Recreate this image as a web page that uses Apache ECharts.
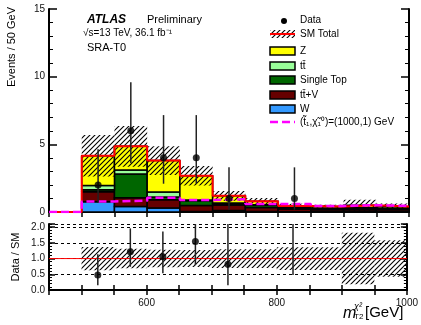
<!DOCTYPE html>
<html>
<head>
<meta charset="utf-8">
<script src="https://cdn.jsdelivr.net/npm/echarts@6.0.0/dist/echarts.min.js"></script>
<style>html,body{margin:0;padding:0;background:#fff}#chart{width:421px;height:325px}</style>
</head>
<body>
<div id="chart"></div>
<script>
// lower bin edges, bins are 50 GeV wide
const binLow = [450, 500, 550, 600, 650, 700, 750, 800, 850, 900, 950];
const binWidth = 50;
const xMax = 1000;

// SM backgrounds per bin
const wJets     = [0, 0.75, 0.40, 0.30, 0.03, 0.12, 0.04, 0.02, 0.02, 0.02, 0.02];
const ttV       = [0, 0.75, 0.65, 0.60, 0.45, 0.40, 0.30, 0.20, 0.15, 0.15, 0.15];
const singleTop = [0, 0.15, 1.75, 0.20, 0.35, 0.10, 0.15, 0.10, 0.08, 0.10, 0.08];
const ttbar     = [0, 0.30, 0.30, 0.37, 0.05, 0.05, 0.05, 0.03, 0.03, 0.05, 0.03];
const zJets     = [0, 2.20, 1.75, 2.33, 1.79, 0.53, 0.26, 0.10, 0.12, 0.18, 0.12];
// relative SM uncertainty (hatched band)
const smRelErr  = [0, 0.37, 0.31, 0.28, 0.27, 0.30, 0.30, 0.36, 0.36, 0.82, 0.58];
// signal (stop, neutralino) = (1000, 1) GeV
const signal    = [0, 0.78, 0.83, 1.05, 0.88, 0.95, 0.60, 0.60, 0.45, 0.50, 0.45];

// data points
const dataX     = [525, 575, 625, 675, 725, 825];
const dataY     = [2, 6, 4, 4, 1, 1];
const dataLow   = [0.71, 3.62, 2.09, 2.09, 0.17, 0.17];
const dataHigh  = [4.64, 9.58, 7.16, 7.16, 3.30, 3.30];
// ratio panel points
const ratioY    = [0.48, 1.22, 1.06, 1.54, 0.82, 2.30];
const ratioLow  = [0.15, 0.74, 0.53, 0.79, 0.15, 0.48];
const ratioHigh = [1.14, 1.96, 1.86, 2.60, 2.70, 7.20];

const xTickLabels = [600, 800, 1000];

const FONT = '"Liberation Sans", Arial, Helvetica, sans-serif';

function hatch(size, color) {
    const c = document.createElement('canvas');
    c.width = size; c.height = size;
    const ctx = c.getContext('2d');
    ctx.strokeStyle = color;
    ctx.lineWidth = 1.1;
    ctx.beginPath();
    ctx.moveTo(0, size); ctx.lineTo(size, 0);
    ctx.moveTo(-1, 1); ctx.lineTo(1, -1);
    ctx.moveTo(size - 1, size + 1); ctx.lineTo(size + 1, size - 1);
    ctx.stroke();
    return { image: c, repeat: 'repeat' };
}
const hatchFill = hatch(5, '#000');

// stacking order bottom -> top
const stack = [
    { values: wJets, color: '#3399ff' },
    { values: ttV, color: '#660000' },
    { values: singleTop, color: '#006600' },
    { values: ttbar, color: '#99ff99' },
    { values: zJets, color: '#ffff00' }
];
let base = binLow.map(() => 0);
stack.forEach(s => {
    s.rows = binLow.map((x, i) => [x, x + binWidth, base[i], base[i] + s.values[i]])
        .filter(r => r[3] > r[2]);
    base = base.map((b, i) => b + s.values[i]);
});
const total = base;

function boxRender(fill, stroke, lw) {
    return function (params, api) {
        const a = api.coord([api.value(0), api.value(3)]);
        const b = api.coord([api.value(1), api.value(2)]);
        return {
            type: 'rect',
            shape: { x: a[0], y: a[1], width: b[0] - a[0], height: b[1] - a[1] },
            style: stroke ? { fill: fill, stroke: stroke, lineWidth: lw } : { fill: fill }
        };
    };
}
function errRender(params, api) {
    const a = api.coord([api.value(0), api.value(1)]);
    const b = api.coord([api.value(0), api.value(2)]);
    return { type: 'line', shape: { x1: a[0], y1: a[1], x2: b[0], y2: b[1] }, style: { stroke: '#222', lineWidth: 1.5 } };
}
function stepData(vals) {
    const d = binLow.map((x, i) => [x, vals[i]]);
    d.push([xMax, vals[vals.length - 1]]);
    return d;
}

const series = [];
stack.forEach(s => series.push({
    type: 'custom', xAxisIndex: 0, yAxisIndex: 0, z: 2, clip: true,
    data: s.rows, encode: { x: [0, 1], y: [2, 3] },
    renderItem: boxRender(s.color, '#000', 1.5)
}));
series.push({
    type: 'custom', xAxisIndex: 0, yAxisIndex: 0, z: 3, clip: true,
    data: binLow.map((x, i) => [x, x + binWidth, total[i] * (1 - smRelErr[i]), total[i] * (1 + smRelErr[i])]).filter(r => r[3] > r[2]),
    encode: { x: [0, 1], y: [2, 3] },
    renderItem: boxRender(hatchFill)
});
series.push({
    type: 'line', xAxisIndex: 0, yAxisIndex: 0, z: 4, step: 'end', symbol: 'none',
    data: stepData(total), lineStyle: { color: '#ff0000', width: 2 }
});
series.push({
    type: 'line', xAxisIndex: 0, yAxisIndex: 0, z: 5, step: 'end', symbol: 'none',
    data: stepData(signal), lineStyle: { color: '#ff00ff', width: 2.5, type: [8, 4] }
});
series.push({
    type: 'custom', xAxisIndex: 0, yAxisIndex: 0, z: 6, clip: true,
    data: dataX.map((x, i) => [x, dataLow[i], dataHigh[i]]),
    encode: { x: 0, y: [1, 2] }, renderItem: errRender
});
series.push({
    type: 'scatter', xAxisIndex: 0, yAxisIndex: 0, z: 7, symbolSize: 7,
    itemStyle: { color: '#000' }, data: dataX.map((x, i) => [x, dataY[i]])
});
// ratio panel
series.push({
    type: 'custom', xAxisIndex: 2, yAxisIndex: 2, z: 3, clip: true,
    data: binLow.map((x, i) => [x, x + binWidth, 1 - smRelErr[i], 1 + smRelErr[i]]).filter(r => r[3] > r[2]),
    encode: { x: [0, 1], y: [2, 3] },
    renderItem: boxRender(hatchFill)
});
series.push({
    type: 'line', xAxisIndex: 2, yAxisIndex: 2, z: 4, symbol: 'none',
    data: [[binLow[0], 1], [xMax, 1]], lineStyle: { color: '#ff0000', width: 1 }
});
series.push({
    type: 'custom', xAxisIndex: 2, yAxisIndex: 2, z: 6, clip: true,
    data: dataX.map((x, i) => [x, ratioLow[i], ratioHigh[i]]),
    encode: { x: 0, y: [1, 2] }, renderItem: errRender
});
series.push({
    type: 'scatter', xAxisIndex: 2, yAxisIndex: 2, z: 7, symbolSize: 7, clip: true,
    itemStyle: { color: '#000' }, data: dataX.map((x, i) => [x, ratioY[i]])
});

const frame = { lineStyle: { color: '#000', width: 2 } };
function xAx(grid, pos, labels) {
    return {
        gridIndex: grid, type: 'value', position: pos, min: binLow[0], max: xMax, interval: 50,
        axisLine: frame, splitLine: { show: false },
        axisTick: { inside: true, length: 5, lineStyle: { color: '#000', width: 1.5 } },
        axisLabel: {
            show: labels, margin: 8, color: '#111', fontFamily: FONT, fontSize: 10,
            formatter: v => xTickLabels.includes(v) ? String(v) : ''
        }
    };
}
function yAx(grid, pos, labels, min, max, step, tick, split) {
    return {
        gridIndex: grid, type: 'value', position: pos, min: min, max: max, interval: step,
        axisLine: frame,
        splitLine: split ? { show: true, lineStyle: { color: '#000', width: 1, type: [3, 3] } } : { show: false },
        axisTick: { inside: true, length: tick, lineStyle: { color: '#000', width: 1.5 } },
        minorTick: { show: true, splitNumber: 5, length: tick / 2, lineStyle: { color: '#000', width: 1 } },
        axisLabel: {
            show: labels, margin: 4, color: '#111', fontFamily: FONT, fontSize: 10,
            showMaxLabel: step === 5,
            formatter: v => step === 5 ? String(v) : v.toFixed(1)
        }
    };
}

// legend
const legX = 270, legTxt = 300;
const legRows = [
    { t: 'Z', c: '#ffff00', y: 51 },
    { t: 'tt\u0304', c: '#99ff99', y: 66 },
    { t: 'Single Top', c: '#006600', y: 80 },
    { t: 'tt\u0304+V', c: '#660000', y: 95 },
    { t: 'W', c: '#3399ff', y: 109 }
];
const txt = (s, x, y, size, extra) => Object.assign({
    type: 'text', x: x, y: y,
    style: { text: s, x: 0, y: 0, font: (extra && extra.font ? extra.font + ' ' : '') + size + 'px ' + FONT, fill: '#000', textAlign: 'left', textVerticalAlign: 'middle' }
}, extra && extra.rot ? { rotation: extra.rot } : {});

const graphic = [
    txt('ATLAS', 87, 20, 12, { font: 'italic bold' }),
    txt('Preliminary', 147, 20, 11),
    txt('\u221As=13 TeV, 36.1 fb\u207B\u00B9', 83, 33, 10),
    txt('SRA-T0', 87, 48, 11),
    { type: 'circle', shape: { cx: 284, cy: 21, r: 3 }, style: { fill: '#000' } },
    txt('Data', legTxt, 20, 10),
    { type: 'rect', shape: { x: legX, y: 30, width: 25, height: 8 }, style: { fill: hatchFill } },
    { type: 'line', shape: { x1: legX, y1: 34, x2: legX + 25, y2: 34 }, style: { stroke: '#ff0000', lineWidth: 2 } },
    txt('SM Total', legTxt, 34, 10),
    { type: 'line', shape: { x1: legX, y1: 122, x2: legX + 25, y2: 122 }, style: { stroke: '#ff00ff', lineWidth: 2.5, lineDash: [8, 4] } },
    txt('(t\u0303\u2081,\u03C7\u0303\u2081\u2070)=(1000,1) GeV', legTxt, 122, 10),
    txt('Events / 50 GeV', 12, 47, 11, { rot: Math.PI / 2 }),
    txt('Data / SM', 16, 257, 11, { rot: Math.PI / 2 }),
    txt('m', 343, 314, 16, { font: 'italic' }),
    txt('\u03C7\u00B2', 354, 306, 9, { font: 'italic' }),
    txt('T2', 354, 317, 8),
    txt('[GeV]', 365, 313, 15)
];
legRows.forEach(r => {
    graphic.push({ type: 'rect', shape: { x: legX, y: r.y - 4, width: 25, height: 8 }, style: { fill: r.c, stroke: '#000', lineWidth: 1.5 } });
    graphic.push(txt(r.t, legTxt, r.y, 10));
});
// center rotated titles
graphic.forEach(g => { if (g.rotation) { g.style.textAlign = 'center'; } });

const myChart = echarts.init(document.getElementById('chart'), null, { renderer: 'canvas' });
myChart.setOption({
    animation: false,
    backgroundColor: '#fff',
    grid: [
        { left: 49, right: 12, top: 9, height: 203 },
        { left: 49, right: 12, top: 224, height: 66 }
    ],
    xAxis: [xAx(0, 'bottom', false), xAx(0, 'top', false), xAx(1, 'bottom', true), xAx(1, 'top', false)],
    yAxis: [
        yAx(0, 'left', true, 0, 15, 5, 8, false),
        yAx(0, 'right', false, 0, 15, 5, 8, false),
        yAx(1, 'left', true, 0, 2.1, 0.5, 6, true),
        yAx(1, 'right', false, 0, 2.1, 0.5, 6, false)
    ],
    series: series,
    graphic: graphic
});
</script>
</body>
</html>
